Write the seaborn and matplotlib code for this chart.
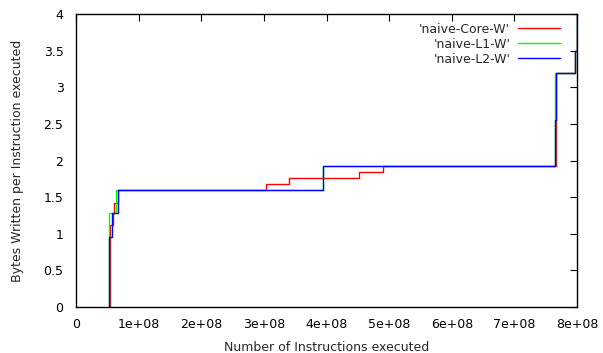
import matplotlib
matplotlib.use("Agg")
import matplotlib.pyplot as plt
import pandas as pd
import seaborn as sns

# step data (x = instructions, y = bytes written / instruction)
core_x = [5.40e7, 5.50e7, 5.90e7, 6.10e7, 6.70e7, 3.03e8, 3.40e8, 4.52e8, 4.90e8, 7.66e8, 7.67e8, 7.97e8, 8.00e8]
core_y = [0.00, 1.12, 1.28, 1.42, 1.60, 1.68, 1.76, 1.84, 1.92, 2.23, 3.20, 3.50, 4.00]

l1_x = [5.30e7, 5.35e7, 6.40e7, 3.95e8, 7.65e8, 7.97e8, 8.00e8]
l1_y = [0.00, 1.28, 1.60, 1.92, 3.20, 3.50, 4.00]

l2_x = [5.30e7, 5.35e7, 5.75e7, 6.70e7, 3.95e8, 7.64e8, 7.66e8, 7.97e8, 8.00e8]
l2_y = [0.00, 0.96, 1.28, 1.60, 1.92, 2.55, 3.20, 3.50, 4.00]

names = ["'naive-Core-W'", "'naive-L1-W'", "'naive-L2-W'"]
colors = ["#ff0000", "#00ff00", "#0000ff"]

xticks = [0, 1e8, 2e8, 3e8, 4e8, 5e8, 6e8, 7e8, 8e8]
xticklabels = ["0", "1e+08", "2e+08", "3e+08", "4e+08", "5e+08", "6e+08", "7e+08", "8e+08"]
yticks = [0, 0.5, 1, 1.5, 2, 2.5, 3, 3.5, 4]
yticklabels = ["0", "0.5", "1", "1.5", "2", "2.5", "3", "3.5", "4"]

sns.set_style("white")
plt.rcParams['font.family'] = ['DejaVu Sans']

fig = plt.figure(figsize=(6.03, 3.53), dpi=100)
ax = fig.add_axes([0.126, 0.130, 0.831, 0.830])

for name, color, xs, ys in zip(names, colors, [core_x, l1_x, l2_x], [core_y, l1_y, l2_y]):
    df = pd.DataFrame({"x": xs, "y": ys})
    sns.lineplot(data=df, x="x", y="y", ax=ax, color=color, linewidth=1,
                 drawstyle="steps-post", label=name, estimator=None, sort=False)

ax.set_xlim(0, 8e8)
ax.set_ylim(0, 4)
ax.set_xticks(xticks)
ax.set_xticklabels(xticklabels)
ax.set_yticks(yticks)
ax.set_yticklabels(yticklabels)
ax.tick_params(direction="in", length=5, width=0.8, top=True, right=True,
               labelsize=9, colors="black")
ax.tick_params(axis="x", pad=8)
ax.tick_params(axis="y", pad=9)
for s in ax.spines.values():
    s.set_color("black")
    s.set_linewidth(1)

ax.set_xlabel("Number of Instructions executed", fontsize=9, labelpad=7)
ax.set_ylabel("Bytes Written per Instruction executed", fontsize=9, labelpad=14)

ax.legend(loc="upper right", bbox_to_anchor=(0.984, 1.0), frameon=False, markerfirst=False,
          fontsize=9, handlelength=3.4, labelspacing=0.15, borderaxespad=0.3, handletextpad=0.6)

fig.savefig("out.png", dpi=100)
